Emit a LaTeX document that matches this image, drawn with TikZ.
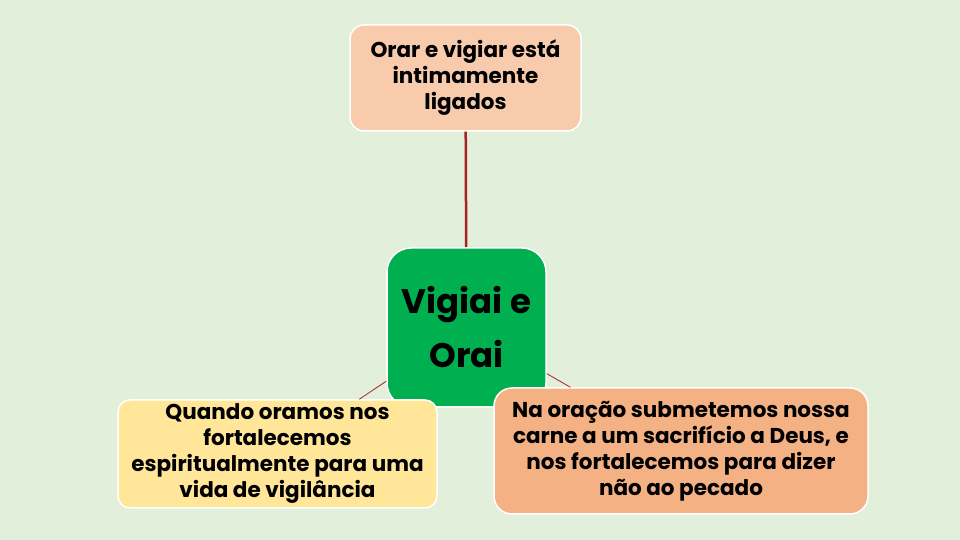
\documentclass[tikz,border=0pt]{standalone}
\usepackage{fontspec}
\setmainfont{Poppins}
\usetikzlibrary{positioning}
\definecolor{color_fundo}{RGB}{226,239,218}
\definecolor{color_topo}{RGB}{248,203,173}
\definecolor{color_centro}{RGB}{0,176,80}
\definecolor{color_esq}{RGB}{255,230,153}
\definecolor{color_dir}{RGB}{244,177,131}
\definecolor{color_linha}{RGB}{165,35,35}

\begin{document}
\begin{tikzpicture}[x=1pt,y=1pt,
	caixa/.style={draw=white, line width=1.5pt, rounded corners=14pt, align=center,
		inner sep=0pt, text=black, font=\bfseries\fontsize{21.5}{26}\selectfont},
	ligacao/.style={draw=color_linha, line width=0.8pt}]
	\fill[color_fundo] (0,0) rectangle (960,540);
	\useasboundingbox (0,0) rectangle (960,540);
	% CENTRO
	\node[caixa, fill=color_centro, minimum width=159pt, minimum height=159pt,
		rounded corners=24pt, font=\bfseries\fontsize{34}{54}\selectfont] (centro) at (466.5,212.5) {Vigiai e\\Orai};
	% TOPO
	\node[caixa, fill=color_topo, minimum width=231pt, minimum height=106pt] (topo) at (465.5,462)
		{Orar e vigiar está\\intimamente\\ligados};
	% ESQUERDA
	\node[caixa, fill=color_esq, minimum width=319pt, minimum height=108pt, rounded corners=12pt] (esq) at (277.5,86)
		{Quando oramos nos\\fortalecemos\\espiritualmente para uma\\vida de vigilância};
	% DIREITA
	\node[caixa, fill=color_dir, minimum width=374pt, minimum height=126pt, rounded corners=18pt] (dir) at (681,89)
		{Na oração submetemos nossa\\carne a um sacrifício a Deus, e\\nos fortalecemos para dizer\\não ao pecado};
	% LIGACOES
	\draw[ligacao, line width=2.5pt] (topo) -- (centro);
	\draw[ligacao] (centro) -- (esq);
	\draw[ligacao] (centro) -- (dir);
\end{tikzpicture}
\end{document}
